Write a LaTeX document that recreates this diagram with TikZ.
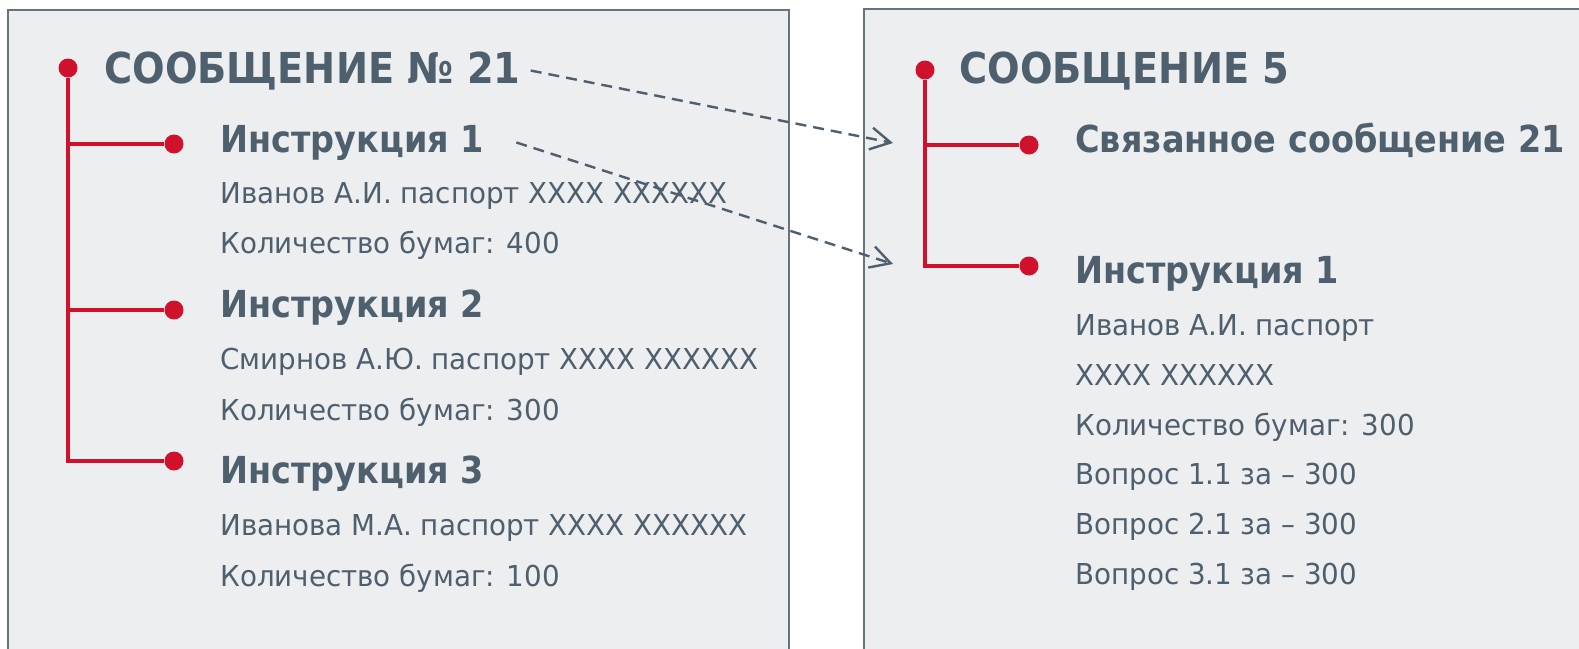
\documentclass[tikz,border=0pt]{standalone}
\usepackage{fontspec}
\setmainfont{DejaVuSansCondensed.ttf}[BoldFont=DejaVuSansCondensed-Bold.ttf]
\newfontfamily\infofont{DejaVuSansCondensed.ttf}[FakeStretch=1.07]
\usetikzlibrary{arrows.meta}

\definecolor{slate}{HTML}{4E5F6D}
\definecolor{boxgray}{HTML}{EDEEF0}
\definecolor{boxline}{HTML}{65737F}
\definecolor{treered}{HTML}{D0112B}

\begin{document}
\begin{tikzpicture}[x=0.5pt, y=-0.5pt,
  every node/.style={text=slate, inner sep=0pt, anchor=base west},
  head/.style={font=\fontsize{21.3}{25}\selectfont\bfseries},
  title/.style={font=\fontsize{18.6}{22}\selectfont\bfseries},
  info/.style={font=\infofont\fontsize{14.4}{17}\selectfont},
  dot/.style={circle, fill=treered, minimum size=9.5pt, inner sep=0pt, anchor=center},
  branch/.style={treered, line width=1.6pt},
  link/.style={slate, line width=1.2pt, dash pattern=on 5.5pt off 3.5pt,
    -{Straight Barb[length=10pt, width=11pt, line width=1.2pt]}}]

\useasboundingbox (0,0) rectangle (1579,648);
\clip (0,0) rectangle (1579,648);

% Two message panels
\draw[boxline, fill=boxgray, line width=0.75pt] (8,10) rectangle (789,700);
\draw[boxline, fill=boxgray, line width=0.75pt] (864,9) rectangle (1700,700);

% Left message and its instructions
\node[dot] (dA) at (68,68) {};
\node[head] (hdrA) at (104,83) {СООБЩЕНИЕ № 21};
\node[dot] (dA1) at (174,144) {};
\node[title] (instA1) at (220,152) {Инструкция 1};
\node[info] (pasA1) at (220,203) {Иванов А.И. паспорт XXXX XXXXXX};
\node[info] (qtyA1) at (220,253) {Количество бумаг: 400};
\node[dot] (dA2) at (174,310) {};
\node[title] (instA2) at (220,317) {Инструкция 2};
\node[info] (pasA2) at (220,369) {Смирнов А.Ю. паспорт XXXX XXXXXX};
\node[info] (qtyA2) at (220,420) {Количество бумаг: 300};
\node[dot] (dA3) at (174,461) {};
\node[title] (instA3) at (220,483) {Инструкция 3};
\node[info] (pasA3) at (220,535) {Иванова М.А. паспорт XXXX XXXXXX};
\node[info] (qtyA3) at (220,586) {Количество бумаг: 100};
\draw[branch] (dA) |- (dA1);
\draw[branch] (dA) |- (dA2);
\draw[branch] (dA) |- (dA3);

% Right message
\node[dot] (dB) at (925,70) {};
\node[head] (hdrB) at (959,83) {СООБЩЕНИЕ 5};
\node[dot] (dB1) at (1029,145) {};
\node[title] (linkB) at (1075,152) {Связанное сообщение 21};
\node[dot] (dB2) at (1029,266) {};
\node[title] (instB1) at (1075,283) {Инструкция 1};
\node[info] (pasB1) at (1075,335) {Иванов А.И. паспорт};
\node[info] (numB1) at (1075,385) {XXXX XXXXXX};
\node[info] (qtyB1) at (1075,435) {Количество бумаг: 300};
\node[info] (q1B1) at (1075,484) {Вопрос 1.1 за – 300};
\node[info] (q2B1) at (1075,534) {Вопрос 2.1 за – 300};
\node[info] (q3B1) at (1075,584) {Вопрос 3.1 за – 300};
\draw[branch] (dB) |- (dB1);
\draw[branch] (dB) |- (dB2);

% Links between the messages
\coordinate (inB1) at (893,143);
\coordinate (inB2) at (893,264);
\draw[link] ([xshift=5pt]hdrA.east) -- (inB1);
\draw[link] ([xshift=16pt]instA1.east) -- (inB2);

\end{tikzpicture}
\end{document}
